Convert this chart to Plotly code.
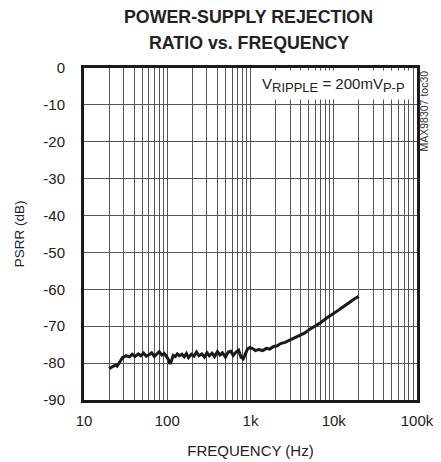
import plotly.graph_objects as go

# PSRR curve (Hz, dB)
freq = [20, 22, 24, 25, 27, 29, 32, 35, 38, 41, 45, 48, 52, 56, 60, 65, 70, 75, 80, 86,
        92, 98, 103, 108, 112, 118, 125, 132, 140, 150, 160, 170, 180, 195, 210, 225, 240,
        260, 280, 300, 320, 345, 370, 400, 430, 460, 500, 540, 580, 620, 670, 720, 770,
        820, 870, 920, 980, 1050, 1150, 1250, 1400, 1550, 1700, 1900, 2100, 2300, 2600,
        2900, 3200, 3600, 4000, 4500, 5000, 5600, 6300, 7000, 8000, 9000, 10000, 11000,
        12500, 14000, 16000, 18000, 20000]
psrr = [-81.5, -81.0, -80.5, -80.8, -79.5, -78.5, -78.0, -78.3, -77.6, -78.2, -77.5, -78.0,
        -77.3, -78.1, -77.8, -77.2, -78.2, -77.6, -76.9, -77.8, -77.4, -78.2, -79.0, -80.2,
        -79.5, -77.9, -78.2, -77.5, -78.0, -77.6, -78.3, -77.4, -78.5, -77.6, -78.1, -77.0,
        -78.0, -77.5, -78.4, -77.2, -78.0, -77.3, -78.2, -76.9, -77.8, -77.2, -78.4, -77.0,
        -76.8, -77.9, -77.0, -76.5, -78.4, -78.8, -77.2, -76.2, -75.8, -76.0, -76.6, -76.3,
        -76.6, -76.0, -76.2, -75.5, -75.3, -74.7, -74.4, -73.9, -73.4, -72.9, -72.4, -71.8,
        -71.0, -70.4, -69.7, -69.0, -68.0, -67.3, -66.6, -65.9, -65.0, -64.2, -63.2, -62.5,
        -61.9]

# log grid: every 1..9 per decade, labels only on decades
x_tickvals = [m * 10 ** e for e in range(1, 5) for m in range(1, 10)] + [100000]
decade_labels = {10: "10", 100: "100", 1000: "1k", 10000: "10k", 100000: "100k"}
x_ticktext = [decade_labels.get(v, "") for v in x_tickvals]

y_tickvals = list(range(0, -100, -10))
y_ticktext = [str(v) for v in y_tickvals]

font_name = "Liberation Sans, Arial"

fig = go.Figure()
fig.add_trace(go.Scatter(x=freq, y=psrr, mode="lines",
                         line=dict(color="#1a1a1a", width=3), showlegend=False))

# the page body adds an 8px margin, so the figure is 8px smaller than the window
fig.update_layout(
    width=433, height=454,
    margin=dict(l=76, r=24, t=60, b=62),
    paper_bgcolor="white", plot_bgcolor="white",
    font=dict(family=font_name, size=15, color="#222"),
)

fig.update_xaxes(type="log", range=[1, 5], automargin=False,
                 tickvals=x_tickvals, ticktext=x_ticktext, ticks="",
                 ticklabelstandoff=5,
                 showgrid=True, gridcolor="#555", gridwidth=1,
                 showline=True, linecolor="#1a1a1a", linewidth=3, mirror=True,
                 title=dict(text="FREQUENCY (Hz)", standoff=18, font=dict(size=15)),
                 tickfont=dict(size=15), zeroline=False)
fig.update_yaxes(range=[-90, 0], tickvals=y_tickvals, ticktext=y_ticktext, ticks="",
                 automargin=False, ticklabelstandoff=13,
                 showgrid=True, gridcolor="#555", gridwidth=1,
                 showline=True, linecolor="#1a1a1a", linewidth=3, mirror=True,
                 title=dict(text="PSRR (dB)", standoff=16, font=dict(size=13.5)),
                 tickfont=dict(size=15), zeroline=False)

# title lines as annotations so both stay inside the page
fig.add_annotation(xref="paper", yref="paper", x=0.494, y=1.1536,
                   xanchor="center", yanchor="middle", showarrow=False,
                   text="<b>POWER-SUPPLY REJECTION</b>", font=dict(size=17.8, color="#222"))
fig.add_annotation(xref="paper", yref="paper", x=0.494, y=1.0753,
                   xanchor="center", yanchor="middle", showarrow=False,
                   text="<b>RATIO vs. FREQUENCY</b>", font=dict(size=17.8, color="#222"))
fig.add_annotation(xref="paper", yref="paper", x=0.98, y=0.995,
                   xanchor="right", yanchor="top", showarrow=False,
                   text="V<sub><span style='font-size:13px'>RIPPLE</span></sub> = 200mV"
                        "<sub><span style='font-size:13px'>P-P</span></sub>",
                   bgcolor="white", borderpad=4, font=dict(size=15, color="#222"))
fig.add_annotation(xref="paper", yref="paper", x=1.021, y=1.0,
                   xanchor="center", yanchor="top", showarrow=False, textangle=-90,
                   text="MAX98307 toc30", font=dict(size=10.5, color="#333"))

fig.write_html("out.html")
